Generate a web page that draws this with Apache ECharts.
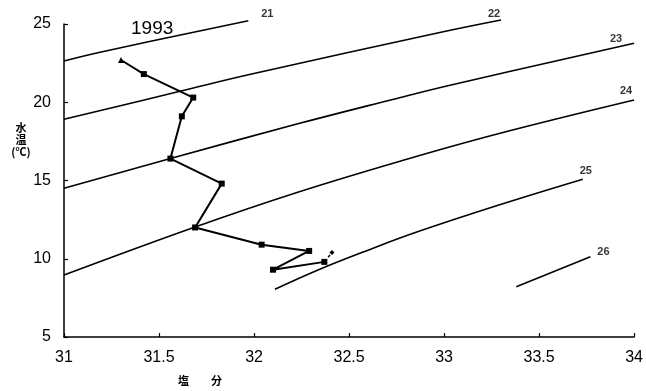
<!DOCTYPE html>
<html>
<head>
<meta charset="utf-8">
<script src="https://cdn.jsdelivr.net/npm/echarts@6/dist/echarts.min.js"></script>
<style>
  html, body { margin: 0; padding: 0; background: #fff; }
  #chart { width: 646px; height: 391px; }
</style>
</head>
<body>
<div id="chart"></div>
<script>
// T-S diagram, 1993: salinity vs water temperature with sigma-t isolines
const salinity = [31.30, 31.42, 31.68, 31.62, 31.56, 31.83, 31.69, 32.04, 32.29, 32.10, 32.37, 32.41];
const temperature = [22.7, 21.8, 20.3, 19.1, 16.4, 14.8, 12.0, 10.9, 10.5, 9.3, 9.8, 10.4];

// sigma-t isolines: [salinity, temperature] points
const sigmaNames = ['21', '22', '23', '24', '25', '26'];
const sigma21 = [[31.00, 22.64], [31.19, 23.20], [31.97, 25.21]];
const sigma22 = [[31.00, 18.91], [31.61, 20.70], [31.97, 21.76], [33.02, 24.57], [33.30, 25.26]];
const sigma23 = [[31.00, 14.50], [31.565, 16.42], [32.23, 18.62], [32.73, 20.18], [33.02, 21.06], [34.00, 23.77]];
const sigma24 = [[31.00, 8.96], [31.69, 12.03], [32.23, 14.25], [32.79, 16.31], [33.28, 17.97], [34.00, 20.14]];
const sigma25 = [[32.11, 8.05], [32.34, 9.30], [32.60, 10.55], [32.86, 11.72], [33.28, 13.40], [33.73, 15.08]];
const sigma26 = [[33.38, 8.21], [33.77, 10.13]];
const sigmaLines = [sigma21, sigma22, sigma23, sigma24, sigma25, sigma26];

const xTicks = [31, 31.5, 32, 32.5, 33, 33.5, 34];
const yTicks = [5, 10, 15, 20, 25];

// pixel nudges for the isoline labels, relative to each line's end
const labelNudge = [[19, -7], [-7, -6], [-18, -4], [-8, -9], [3, -8], [13, -5]];

const numFont = "'Liberation Sans', Arial, sans-serif";
const cjkFont = "'Noto Sans CJK JP', 'Noto Sans CJK SC', sans-serif";

const points = salinity.map((s, i) => [s, temperature[i]]);
const n = points.length;
const mainData = points.slice(0, n - 1).map((p, i) => ({
  value: p,
  symbol: i === 0 ? 'triangle' : 'rect',
  symbolSize: 6
}));

const series = [];
sigmaLines.forEach((pts, k) => {
  series.push({
    type: 'line',
    name: sigmaNames[k],
    data: pts,
    showSymbol: false,
    symbol: 'none',
    smooth: 0.4,
    clip: false,
    lineStyle: { color: '#000', width: 1.6 },
    silent: true,
    z: 2
  });
});
series.push({
  type: 'scatter',
  data: sigmaLines.map((pts, k) => ({
    value: pts[pts.length - 1],
    name: sigmaNames[k],
    label: { offset: labelNudge[k] }
  })),
  symbolSize: 1,
  itemStyle: { color: 'rgba(0,0,0,0)' },
  clip: false,
  silent: true,
  label: {
    show: true,
    position: 'inside',
    formatter: p => p.name,
    color: '#000',
    fontFamily: numFont,
    fontSize: 11,
    fontWeight: 'bold'
  },
  z: 3
});
series.push({
  type: 'line',
  data: mainData,
  clip: false,
  showSymbol: true,
  itemStyle: { color: '#000' },
  lineStyle: { color: '#000', width: 2 },
  silent: true,
  z: 4
});
series.push({
  type: 'line',
  data: [
    { value: points[n - 2], symbol: 'none' },
    { value: points[n - 1], symbol: 'diamond', symbolSize: 5 }
  ],
  showSymbol: true,
  clip: false,
  itemStyle: { color: '#000' },
  lineStyle: { color: '#000', width: 1.5, type: [3, 3] },
  silent: true,
  z: 4
});

const chart = echarts.init(document.getElementById('chart'), null, { renderer: 'canvas' });
chart.setOption({
  backgroundColor: '#fff',
  animation: false,
  grid: { left: 64, right: 8, top: 24, bottom: 54, containLabel: false },
  xAxis: {
    type: 'value',
    min: xTicks[0],
    max: xTicks[xTicks.length - 1],
    interval: 0.5,
    axisLine: { lineStyle: { color: '#000', width: 1.5 } },
    axisTick: { inside: true, length: 4, lineStyle: { color: '#000', width: 1.2 } },
    axisLabel: { color: '#000', fontFamily: numFont, fontSize: 16, margin: 13 },
    splitLine: { show: false }
  },
  yAxis: {
    type: 'value',
    min: yTicks[0],
    max: yTicks[yTicks.length - 1],
    interval: 5,
    axisLine: { show: true, lineStyle: { color: '#000', width: 1.5 } },
    axisTick: { show: true, inside: true, length: 4, lineStyle: { color: '#000', width: 1.2 } },
    axisLabel: { color: '#000', fontFamily: numFont, fontSize: 16, margin: 13 },
    splitLine: { show: false }
  },
  graphic: [
    {
      type: 'text', left: 131, top: 19,
      style: { text: '1993', fill: '#000', font: "19px " + numFont }
    },
    {
      type: 'text', x: 21, y: 122,
      style: {
        text: '水\n温\n(℃)', fill: '#000', textAlign: 'center',
        font: "bold 11px " + cjkFont, lineHeight: 12
      }
    },
    {
      type: 'text', x: 200, y: 381,
      style: {
        text: '塩　　分', fill: '#000', textAlign: 'center', textVerticalAlign: 'middle',
        font: "bold 11px " + cjkFont
      }
    }
  ],
  series: series
});
</script>
</body>
</html>
